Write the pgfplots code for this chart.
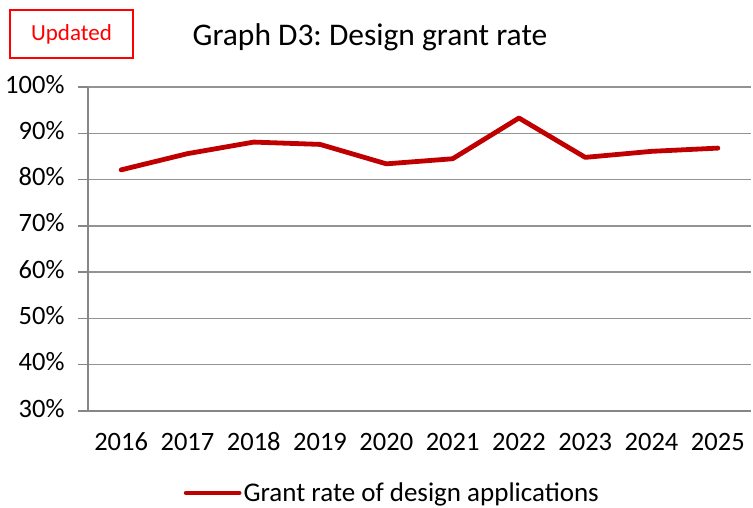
\documentclass[border=0pt]{standalone}
\usepackage{fontspec}
\setmainfont{Carlito}
\usepackage{pgfplots}
\pgfplotsset{compat=1.18}
\definecolor{linered}{HTML}{C00000}
\definecolor{gridgray}{HTML}{939393}
\definecolor{axisgray}{HTML}{868686}
\frenchspacing
\begin{document}
\begin{tikzpicture}
\path[use as bounding box] (-88pt,-96pt) rectangle (665pt,411pt);
\draw[red, line width=1.2pt] (-78pt,401pt) rectangle (45pt,353pt);
\node[red, font=\fontsize{23}{27}\selectfont] at (-16.5pt,377pt) {Updated};
\node[font=\fontsize{31.5}{36}\selectfont] at (282pt,374pt) {Graph D3: Design grant rate};
\begin{axis}[
  at={(0pt,0pt)}, anchor=south west,
  scale only axis, width=663pt, height=324pt,
  xmin=-0.5, xmax=9.5, ymin=30, ymax=100,
  axis lines*=left,
  axis line style={axisgray, line width=1.3pt},
  xtick={0,...,9},
  xticklabels={2016,2017,2018,2019,2020,2021,2022,2023,2024,2025},
  minor xtick={-0.5,0.5,...,9.5},
  ytick={30,40,...,100},
  yticklabels={30\%,40\%,50\%,60\%,70\%,80\%,90\%,100\%},
  tick align=outside,
  xtick style={draw=none},
  minor x tick style={axisgray, line width=1.3pt},
  minor tick length=8pt,
  ytick style={axisgray, line width=1.3pt},
  major tick length=10pt,
  ymajorgrids=true,
  major grid style={gridgray, line width=1.4pt},
  ticklabel style={font=\fontsize{26.5}{30}\selectfont},
  typeset ticklabels with strut,
  xticklabel style={yshift=-5pt},
  yticklabel style={xshift=-10pt},
  legend style={at={(0.459,-0.253)}, anchor=center, draw=none, fill=none,
    font=\fontsize{27}{31}\selectfont, inner sep=0pt},
  legend image code/.code={\draw[#1] (0pt,0pt) -- (53pt,0pt);},
  clip=false,
]
\addplot[linered, line width=4.8pt, line cap=round, line join=round] coordinates {
(0,82.1) (1,85.6) (2,88.1) (3,87.6) (4,83.4) (5,84.5) (6,93.3) (7,84.8) (8,86.1) (9,86.8)
};
\addlegendentry{Grant rate of design applications}
\end{axis}
\end{tikzpicture}
\end{document}
